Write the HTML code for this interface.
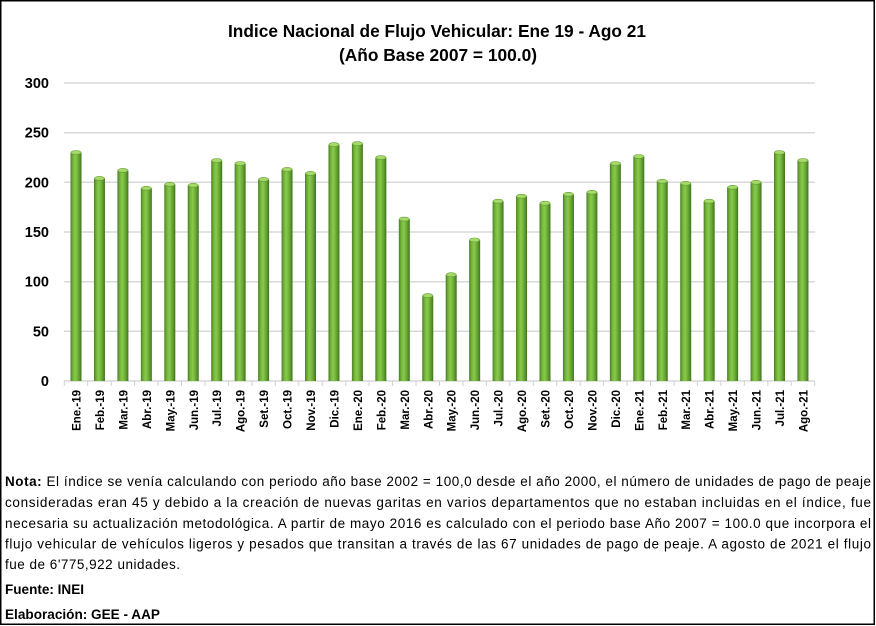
<!DOCTYPE html>
<html><head><meta charset="utf-8"><style>
html,body{margin:0;padding:0;background:#fff;}
svg{display:block;}
</style></head><body>
<svg width="876" height="626" viewBox="0 0 876 626" xmlns="http://www.w3.org/2000/svg">
<defs>
<linearGradient id="bh" x1="0" y1="0" x2="1" y2="0">
<stop offset="0" stop-color="#4a7f24"/>
<stop offset="0.22" stop-color="#72b43a"/>
<stop offset="0.45" stop-color="#8bc94c"/>
<stop offset="0.75" stop-color="#64a532"/>
<stop offset="1" stop-color="#41721f"/>
</linearGradient>
</defs>
<rect x="0" y="0" width="876" height="626" fill="#fff"/>
<rect x="0.75" y="0.75" width="873.5" height="623.5" fill="none" stroke="#000" stroke-width="1.5"/>

<text x="437" y="37" text-anchor="middle" font-family="Liberation Sans, sans-serif" font-weight="bold" font-size="17.5" textLength="418" lengthAdjust="spacingAndGlyphs">Indice Nacional de Flujo Vehicular: Ene 19 - Ago 21</text>
<text x="438" y="61" text-anchor="middle" font-family="Liberation Sans, sans-serif" font-weight="bold" font-size="17.5" textLength="198" lengthAdjust="spacingAndGlyphs">(Año Base 2007 = 100.0)</text>

<g stroke="#d9d9d9" stroke-width="1.5">
<line x1="64" y1="83" x2="815" y2="83"/>
<line x1="64" y1="132.7" x2="815" y2="132.7"/>
<line x1="64" y1="182.3" x2="815" y2="182.3"/>
<line x1="64" y1="232" x2="815" y2="232"/>
<line x1="64" y1="281.7" x2="815" y2="281.7"/>
<line x1="64" y1="331.3" x2="815" y2="331.3"/>
<line x1="64" y1="381" x2="815" y2="381"/>
</g>
<g font-family="Liberation Sans, sans-serif" font-weight="bold" font-size="14.5" text-anchor="end" fill="#000">
<text x="49" y="88">300</text>
<text x="49" y="137.7">250</text>
<text x="49" y="187.3">200</text>
<text x="49" y="237">150</text>
<text x="49" y="286.7">100</text>
<text x="49" y="336.3">50</text>
<text x="49" y="386">0</text>
</g>
<g stroke="#d0d0d0" stroke-width="1">
<line x1="64.3" y1="381" x2="64.3" y2="386"/>
<line x1="87.7" y1="381" x2="87.7" y2="386"/>
<line x1="111.2" y1="381" x2="111.2" y2="386"/>
<line x1="134.6" y1="381" x2="134.6" y2="386"/>
<line x1="158.1" y1="381" x2="158.1" y2="386"/>
<line x1="181.5" y1="381" x2="181.5" y2="386"/>
<line x1="205" y1="381" x2="205" y2="386"/>
<line x1="228.4" y1="381" x2="228.4" y2="386"/>
<line x1="251.9" y1="381" x2="251.9" y2="386"/>
<line x1="275.3" y1="381" x2="275.3" y2="386"/>
<line x1="298.8" y1="381" x2="298.8" y2="386"/>
<line x1="322.2" y1="381" x2="322.2" y2="386"/>
<line x1="345.7" y1="381" x2="345.7" y2="386"/>
<line x1="369.1" y1="381" x2="369.1" y2="386"/>
<line x1="392.6" y1="381" x2="392.6" y2="386"/>
<line x1="416" y1="381" x2="416" y2="386"/>
<line x1="439.5" y1="381" x2="439.5" y2="386"/>
<line x1="462.9" y1="381" x2="462.9" y2="386"/>
<line x1="486.4" y1="381" x2="486.4" y2="386"/>
<line x1="509.8" y1="381" x2="509.8" y2="386"/>
<line x1="533.3" y1="381" x2="533.3" y2="386"/>
<line x1="556.7" y1="381" x2="556.7" y2="386"/>
<line x1="580.2" y1="381" x2="580.2" y2="386"/>
<line x1="603.6" y1="381" x2="603.6" y2="386"/>
<line x1="627.1" y1="381" x2="627.1" y2="386"/>
<line x1="650.5" y1="381" x2="650.5" y2="386"/>
<line x1="674" y1="381" x2="674" y2="386"/>
<line x1="697.4" y1="381" x2="697.4" y2="386"/>
<line x1="720.9" y1="381" x2="720.9" y2="386"/>
<line x1="744.3" y1="381" x2="744.3" y2="386"/>
<line x1="767.8" y1="381" x2="767.8" y2="386"/>
<line x1="791.2" y1="381" x2="791.2" y2="386"/>
<line x1="814.7" y1="381" x2="814.7" y2="386"/>
</g>

<g>
<rect x="70.5" y="152.5" width="11" height="228.5" fill="url(#bh)"/>
<rect x="93.95" y="178.4" width="11" height="202.6" fill="url(#bh)"/>
<rect x="117.4" y="170.4" width="11" height="210.6" fill="url(#bh)"/>
<rect x="140.85" y="188.3" width="11" height="192.7" fill="url(#bh)"/>
<rect x="164.3" y="184.3" width="11" height="196.7" fill="url(#bh)"/>
<rect x="187.75" y="185.3" width="11" height="195.7" fill="url(#bh)"/>
<rect x="211.2" y="160.5" width="11" height="220.5" fill="url(#bh)"/>
<rect x="234.65" y="163.5" width="11" height="217.5" fill="url(#bh)"/>
<rect x="258.1" y="179.4" width="11" height="201.6" fill="url(#bh)"/>
<rect x="281.55" y="169.4" width="11" height="211.6" fill="url(#bh)"/>
<rect x="305" y="173.4" width="11" height="207.6" fill="url(#bh)"/>
<rect x="328.45" y="144.6" width="11" height="236.4" fill="url(#bh)"/>
<rect x="351.9" y="143.6" width="11" height="237.4" fill="url(#bh)"/>
<rect x="375.35" y="157.5" width="11" height="223.5" fill="url(#bh)"/>
<rect x="398.8" y="219.1" width="11" height="161.9" fill="url(#bh)"/>
<rect x="422.25" y="295.6" width="11" height="85.4" fill="url(#bh)"/>
<rect x="445.7" y="274.7" width="11" height="106.3" fill="url(#bh)"/>
<rect x="469.15" y="240" width="11" height="141" fill="url(#bh)"/>
<rect x="492.6" y="201.2" width="11" height="179.8" fill="url(#bh)"/>
<rect x="516.05" y="196.2" width="11" height="184.8" fill="url(#bh)"/>
<rect x="539.5" y="203.2" width="11" height="177.8" fill="url(#bh)"/>
<rect x="562.95" y="194.3" width="11" height="186.7" fill="url(#bh)"/>
<rect x="586.4" y="192.3" width="11" height="188.7" fill="url(#bh)"/>
<rect x="609.85" y="163.5" width="11" height="217.5" fill="url(#bh)"/>
<rect x="633.3" y="156.5" width="11" height="224.5" fill="url(#bh)"/>
<rect x="656.75" y="181.3" width="11" height="199.7" fill="url(#bh)"/>
<rect x="680.2" y="183.3" width="11" height="197.7" fill="url(#bh)"/>
<rect x="703.65" y="201.2" width="11" height="179.8" fill="url(#bh)"/>
<rect x="727.1" y="187.3" width="11" height="193.7" fill="url(#bh)"/>
<rect x="750.55" y="182.3" width="11" height="198.7" fill="url(#bh)"/>
<rect x="774" y="152.5" width="11" height="228.5" fill="url(#bh)"/>
<rect x="797.45" y="160.5" width="11" height="220.5" fill="url(#bh)"/>
</g>
<g fill="#a6d86a" stroke="#66a036" stroke-width="0.6">
<ellipse cx="76" cy="152.5" rx="5" ry="2"/>
<ellipse cx="99.45" cy="178.4" rx="5" ry="2"/>
<ellipse cx="122.9" cy="170.4" rx="5" ry="2"/>
<ellipse cx="146.35" cy="188.3" rx="5" ry="2"/>
<ellipse cx="169.8" cy="184.3" rx="5" ry="2"/>
<ellipse cx="193.25" cy="185.3" rx="5" ry="2"/>
<ellipse cx="216.7" cy="160.5" rx="5" ry="2"/>
<ellipse cx="240.15" cy="163.5" rx="5" ry="2"/>
<ellipse cx="263.6" cy="179.4" rx="5" ry="2"/>
<ellipse cx="287.05" cy="169.4" rx="5" ry="2"/>
<ellipse cx="310.5" cy="173.4" rx="5" ry="2"/>
<ellipse cx="333.95" cy="144.6" rx="5" ry="2"/>
<ellipse cx="357.4" cy="143.6" rx="5" ry="2"/>
<ellipse cx="380.85" cy="157.5" rx="5" ry="2"/>
<ellipse cx="404.3" cy="219.1" rx="5" ry="2"/>
<ellipse cx="427.75" cy="295.6" rx="5" ry="2"/>
<ellipse cx="451.2" cy="274.7" rx="5" ry="2"/>
<ellipse cx="474.65" cy="240" rx="5" ry="2"/>
<ellipse cx="498.1" cy="201.2" rx="5" ry="2"/>
<ellipse cx="521.55" cy="196.2" rx="5" ry="2"/>
<ellipse cx="545" cy="203.2" rx="5" ry="2"/>
<ellipse cx="568.45" cy="194.3" rx="5" ry="2"/>
<ellipse cx="591.9" cy="192.3" rx="5" ry="2"/>
<ellipse cx="615.35" cy="163.5" rx="5" ry="2"/>
<ellipse cx="638.8" cy="156.5" rx="5" ry="2"/>
<ellipse cx="662.25" cy="181.3" rx="5" ry="2"/>
<ellipse cx="685.7" cy="183.3" rx="5" ry="2"/>
<ellipse cx="709.15" cy="201.2" rx="5" ry="2"/>
<ellipse cx="732.6" cy="187.3" rx="5" ry="2"/>
<ellipse cx="756.05" cy="182.3" rx="5" ry="2"/>
<ellipse cx="779.5" cy="152.5" rx="5" ry="2"/>
<ellipse cx="802.95" cy="160.5" rx="5" ry="2"/>
</g>

<g font-family="Liberation Sans, sans-serif" font-weight="bold" font-size="11.5" text-anchor="end" fill="#000">
<text transform="translate(80.5,390) rotate(-90)">Ene.-19</text>
<text transform="translate(103.95,390) rotate(-90)">Feb.-19</text>
<text transform="translate(127.4,390) rotate(-90)">Mar.-19</text>
<text transform="translate(150.85,390) rotate(-90)">Abr.-19</text>
<text transform="translate(174.3,390) rotate(-90)">May.-19</text>
<text transform="translate(197.75,390) rotate(-90)">Jun.-19</text>
<text transform="translate(221.2,390) rotate(-90)">Jul.-19</text>
<text transform="translate(244.65,390) rotate(-90)">Ago.-19</text>
<text transform="translate(268.1,390) rotate(-90)">Set.-19</text>
<text transform="translate(291.55,390) rotate(-90)">Oct.-19</text>
<text transform="translate(315,390) rotate(-90)">Nov.-19</text>
<text transform="translate(338.45,390) rotate(-90)">Dic.-19</text>
<text transform="translate(361.9,390) rotate(-90)">Ene.-20</text>
<text transform="translate(385.35,390) rotate(-90)">Feb.-20</text>
<text transform="translate(408.8,390) rotate(-90)">Mar.-20</text>
<text transform="translate(432.25,390) rotate(-90)">Abr.-20</text>
<text transform="translate(455.7,390) rotate(-90)">May.-20</text>
<text transform="translate(479.15,390) rotate(-90)">Jun.-20</text>
<text transform="translate(502.6,390) rotate(-90)">Jul.-20</text>
<text transform="translate(526.05,390) rotate(-90)">Ago.-20</text>
<text transform="translate(549.5,390) rotate(-90)">Set.-20</text>
<text transform="translate(572.95,390) rotate(-90)">Oct.-20</text>
<text transform="translate(596.4,390) rotate(-90)">Nov.-20</text>
<text transform="translate(619.85,390) rotate(-90)">Dic.-20</text>
<text transform="translate(643.3,390) rotate(-90)">Ene.-21</text>
<text transform="translate(666.75,390) rotate(-90)">Feb.-21</text>
<text transform="translate(690.2,390) rotate(-90)">Mar.-21</text>
<text transform="translate(713.65,390) rotate(-90)">Abr.-21</text>
<text transform="translate(737.1,390) rotate(-90)">May.-21</text>
<text transform="translate(760.55,390) rotate(-90)">Jun.-21</text>
<text transform="translate(784,390) rotate(-90)">Jul.-21</text>
<text transform="translate(807.45,390) rotate(-90)">Ago.-21</text>
</g>

<g font-family="Liberation Sans, sans-serif" font-size="13.5" fill="#000">
<text x="5" y="486" textLength="866" lengthAdjust="spacing"><tspan font-weight="bold">Nota:</tspan> El índice se venía calculando con periodo año base 2002 = 100,0 desde el año 2000, el número de unidades de pago de peaje</text>
<text x="5" y="507" textLength="866" lengthAdjust="spacing">consideradas eran 45 y debido a la creación de nuevas garitas en varios departamentos que no estaban incluidas en el índice, fue</text>
<text x="5" y="528" textLength="866" lengthAdjust="spacing">necesaria su actualización metodológica. A partir de mayo 2016 es calculado con el periodo base Año 2007 = 100.0 que incorpora el</text>
<text x="5" y="548.5" textLength="866" lengthAdjust="spacing">flujo vehicular de vehículos ligeros y pesados que transitan a través de las 67 unidades de pago de peaje. A agosto de 2021 el flujo</text>
<text x="5" y="569" textLength="175" lengthAdjust="spacing">fue de 6'775,922 unidades.</text>
<text x="5" y="594" font-weight="bold" textLength="79" lengthAdjust="spacingAndGlyphs">Fuente: INEI</text>
<text x="5" y="619" font-weight="bold" textLength="155" lengthAdjust="spacingAndGlyphs">Elaboración: GEE - AAP</text>
</g>
</svg>
</body></html>
